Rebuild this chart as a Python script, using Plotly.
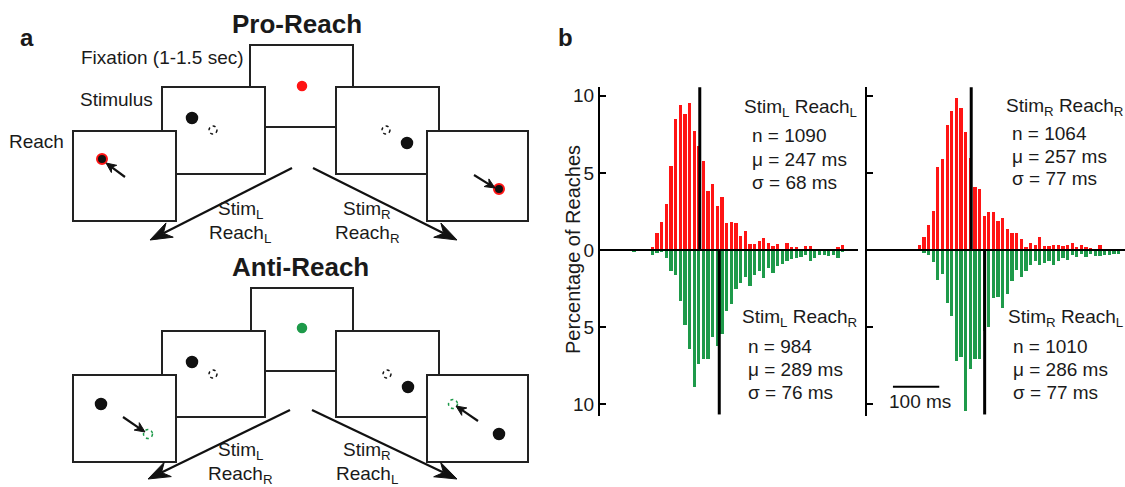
import math
import plotly.graph_objects as go

W, H = 1125, 487
FONT = "Arial, Liberation Sans, Helvetica, sans-serif"
TXT = "#1a1a1a"
RED = "#ff1414"
GREEN = "#1e9a4a"

# ---------------- data (percentage of reaches per 10 ms bin) ----------------
bins_ms = [85, 95, 105, 115, 125, 135, 145, 155, 165, 175,
           185, 195, 205, 215, 225, 235, 245, 255, 265, 275,
           285, 295, 305, 315, 325, 335, 345, 355, 365, 375,
           385, 395, 405, 415, 425, 435, 445, 455, 465, 475,
           485, 495, 505, 515, 525, 535, 545, 555, 565, 575,
           585]

pro_left = [0.08, 0.08, 0.12, 0, 0, 0, 0.26, 1.16, 1.87, 3.0,
            5.46, 8.5, 9.46, 8.86, 9.55, 7.74, 6.8, 5.78, 3.88, 4.32,
            2.9, 3.45, 1.8, 1.86, 1.8, 0.95, 1.25, 0.45, 0.45, 0.6,
            0.8, 0.5, 0.3, 0.42, 0.08, 0.47, 0.22, 0.22, 0.04, 0.3,
            0.3, 0.05, 0.13, 0.05, 0.05, 0.05, 0.22, 0.34, 0, 0,
            0]
anti_left = [0, 0, 0.1, 0, 0, 0, 0.28, 0.17, 0.05, 0.5,
             1.31, 1.57, 3.29, 4.8, 6.4, 8.84, 7.38, 7.05, 7.05, 5.6,
             6.2, 5.4, 3.9, 3.46, 2.5, 2.1, 1.7, 2.3, 1.6, 1.3,
             1.75, 1.1, 1.45, 1.0, 0.9, 0.65, 0.55, 0.5, 0.4, 0.3,
             0.65, 0.45, 0.3, 0.3, 0.37, 0.3, 0.45, 0.1, 0, 0,
             0]
pro_right = [0, 0, 0, 0, 0, 0.05, 0.37, 0.87, 1.63, 2.54,
             5.41, 5.93, 8.15, 9.02, 9.9, 9.24, 7.67, 6.0, 4.13, 3.98,
             2.24, 2.5, 2.5, 1.9, 2.1, 1.41, 1.15, 1.15, 0.72, 0.22,
             0.5, 0.37, 0.91, 0.28, 0.28, 0.37, 0.37, 0.28, 0.37, 0.5,
             0.22, 0.37, 0.22, 0.15, 0, 0.37, 0.1, 0.1, 0.1, 0.12,
             0]
anti_right = [0, 0, 0, 0, 0, 0, 0, 0.15, 0.26, 0.74,
              1.89, 1.52, 3.41, 4.22, 7.17, 6.89, 10.37, 7.65, 7.04, 7.04,
              5.2, 4.93, 3.04, 2.98, 3.74, 2.83, 2.0, 1.24, 1.74, 1.3,
              0.91, 0.7, 0.96, 0.8, 0.65, 0.96, 0.7, 0.48, 0.59, 0.3,
              0.43, 0.22, 0.43, 0.22, 0.37, 0.37, 0.26, 0.3, 0.2, 0.2,
              0]

stim_side = ["L", "L", "R", "R"]
reach_side = ["L", "R", "R", "L"]
n_vals = [1090, 984, 1064, 1010]
mu_vals = [247, 289, 257, 286]
sd_vals = [68, 76, 77, 77]

y_ticks = [-10, -5, 0, 5, 10]
y_tick_text = ["10", "5", "0", "5", "10"]

# ---------------- helpers for pixel placement ----------------
def px(x):
    return x / W


def py(y):
    return 1 - y / H


fig = go.Figure()

# ---------------- histograms ----------------
panels = [("x", "y", pro_left, anti_left, 0, 1), ("x2", "y2", pro_right, anti_right, 2, 3)]
for xa, ya, up, down, iu, idn in panels:
    fig.add_trace(go.Bar(x=bins_ms, y=up, width=7, marker=dict(color=RED, line=dict(width=0)),
                         xaxis=xa, yaxis=ya, showlegend=False))
    fig.add_trace(go.Bar(x=bins_ms, y=[-v for v in down], width=7,
                         marker=dict(color=GREEN, line=dict(width=0)),
                         xaxis=xa, yaxis=ya, showlegend=False))
    fig.add_trace(go.Scatter(x=[mu_vals[iu], mu_vals[iu]], y=[0, 10.55], mode="lines",
                             line=dict(color="black", width=3), xaxis=xa, yaxis=ya, showlegend=False))
    fig.add_trace(go.Scatter(x=[mu_vals[idn], mu_vals[idn]], y=[0, -10.65], mode="lines",
                             line=dict(color="black", width=3), xaxis=xa, yaxis=ya, showlegend=False))

shapes = []
annotations = []

# baselines on top
for xr, yr in [("x domain", "y"), ("x2 domain", "y2")]:
    shapes.append(dict(type="line", xref=xr, yref=yr, x0=0, x1=1, y0=0, y1=0,
                       line=dict(color="black", width=2), layer="above"))

# scale bar (100 ms)
shapes.append(dict(type="line", xref="x2", yref="y2", x0=88, x1=188, y0=-8.85, y1=-8.85,
                   line=dict(color="black", width=2)))
annotations.append(dict(xref="x2", yref="y2", x=146, y=-9.8, text="100 ms", showarrow=False,
                        font=dict(size=19, color=TXT, family=FONT)))

# condition text blocks
text_pos = [(742, 108, 750, 136), (740, 318, 746, 346), (1004, 107, 1010, 133), (1006, 318, 1011, 346)]
for k, (tx, ty, sx, sy) in enumerate(text_pos):
    annotations.append(dict(xref="paper", yref="paper", x=px(tx), y=py(ty), xanchor="left", yanchor="middle",
                            text=f"Stim<sub>{stim_side[k]}</sub> Reach<sub>{reach_side[k]}</sub>",
                            showarrow=False, font=dict(size=19, color=TXT, family=FONT)))
    lines = [f"n = {n_vals[k]}", f"\u03bc = {mu_vals[k]} ms", f"\u03c3 = {sd_vals[k]} ms"]
    for j, t in enumerate(lines):
        annotations.append(dict(xref="paper", yref="paper", x=px(sx), y=py(sy + 23 * j),
                                xanchor="left", yanchor="middle", text=t, showarrow=False,
                                font=dict(size=19, color=TXT, family=FONT)))

annotations.append(dict(xref="paper", yref="paper", x=px(573), y=py(250), text="Percentage of Reaches",
                        textangle=-90, showarrow=False, font=dict(size=20, color=TXT, family=FONT)))

# panel letters
annotations.append(dict(xref="paper", yref="paper", x=px(18), y=py(22), text="<b>a</b>", showarrow=False,
                        font=dict(size=24, color=TXT, family=FONT)))
annotations.append(dict(xref="paper", yref="paper", x=px(565), y=py(22), text="<b>b</b>", showarrow=False,
                        font=dict(size=24, color=TXT, family=FONT)))

# ---------------- panel a diagram ----------------
def box(x0, y0, x1, y1):
    shapes.append(dict(type="rect", xref="paper", yref="paper", x0=px(x0), x1=px(x1), y0=py(y1), y1=py(y0),
                       line=dict(color="#222", width=2), fillcolor="white", layer="above"))


def dot(cx, cy, r, fill, line_color=None, lw=1.5):
    shapes.append(dict(type="circle", xref="paper", yref="paper", x0=px(cx - r), x1=px(cx + r),
                       y0=py(cy + r), y1=py(cy - r),
                       line=dict(color=line_color or fill, width=lw),
                       fillcolor=fill, layer="above"))


def ring(cx, cy, r, color):
    shapes.append(dict(type="circle", xref="paper", yref="paper", x0=px(cx - r), x1=px(cx + r),
                       y0=py(cy + r), y1=py(cy - r),
                       line=dict(color=color, width=1.5, dash="dot"), fillcolor="rgba(0,0,0,0)", layer="above"))


def arrow(tx, ty, hx, hy, width, head_len, head_half, notch):
    """Straight arrow from tail (tx,ty) to tip (hx,hy), pixel coordinates, barbed filled head."""
    L = math.hypot(hx - tx, hy - ty)
    dx, dy = (hx - tx) / L, (hy - ty) / L
    nx, ny = -dy, dx
    bx, by = hx - (head_len - notch) * dx, hy - (head_len - notch) * dy
    shapes.append(dict(type="line", xref="paper", yref="paper", x0=px(tx), y0=py(ty), x1=px(bx), y1=py(by),
                       line=dict(color="#111", width=width), layer="above"))
    p1 = (hx, hy)
    p2 = (hx - head_len * dx + head_half * nx, hy - head_len * dy + head_half * ny)
    p3 = (bx, by)
    p4 = (hx - head_len * dx - head_half * nx, hy - head_len * dy - head_half * ny)
    path = "M {} {} L {} {} L {} {} L {} {} Z".format(
        px(p1[0]), py(p1[1]), px(p2[0]), py(p2[1]), px(p3[0]), py(p3[1]), px(p4[0]), py(p4[1]))
    shapes.append(dict(type="path", xref="paper", yref="paper", path=path, fillcolor="#111",
                       line=dict(color="#111", width=1), layer="above"))


def label(x, y, text, size=19, anchor="center", bold=False):
    annotations.append(dict(xref="paper", yref="paper", x=px(x), y=py(y), xanchor=anchor, yanchor="middle",
                            text=f"<b>{text}</b>" if bold else text, showarrow=False,
                            font=dict(size=size, color=TXT, family=FONT)))


# Pro-Reach
label(297, 24, "Pro-Reach", size=26, bold=True)
label(246, 57, "Fixation (1-1.5 sec)", anchor="right")
label(155, 100, "Stimulus", anchor="right")
label(66, 141, "Reach", anchor="right")
box(250, 45, 353, 127)
dot(302, 86, 4.5, RED)
box(162, 87, 265, 174)
dot(192, 118, 5.5, "#111")
ring(213, 130, 4, "#111")
box(336, 87, 439, 174)
ring(386, 130, 4, "#111")
dot(407, 143, 5.5, "#111")
box(73, 131, 176, 221)
dot(102, 159, 5, "#111", line_color=RED, lw=2)
arrow(125, 177, 106, 163, 2.2, 10, 4.5, 3)
box(427, 131, 528, 221)
dot(499, 189, 5, "#111", line_color=RED, lw=2)
arrow(474, 175, 495, 188, 2.2, 10, 4.5, 3)
arrow(292, 168, 150, 240, 2.2, 22, 8, 7)
arrow(313, 168, 457, 240, 2.2, 22, 8, 7)
label(240, 210, "Stim<sub>L</sub>")
label(240, 234, "Reach<sub>L</sub>")
label(367, 210, "Stim<sub>R</sub>")
label(367, 234, "Reach<sub>R</sub>")

# Anti-Reach
label(300, 267, "Anti-Reach", size=26, bold=True)
box(251, 288, 353, 371)
dot(302, 328, 4.5, GREEN)
box(162, 331, 265, 417)
dot(192, 362, 5.5, "#111")
ring(213, 374, 4, "#111")
box(336, 331, 439, 417)
ring(387, 374, 4, "#111")
dot(408, 387, 5.5, "#111")
box(73, 375, 176, 462)
dot(101, 404, 5.5, "#111")
ring(148, 434, 4.5, GREEN)
arrow(123, 417, 145, 432, 2.2, 10, 4.5, 3)
box(427, 375, 528, 462)
ring(453, 404, 4.5, GREEN)
arrow(478, 421, 456, 406, 2.2, 10, 4.5, 3)
dot(499, 434, 5.5, "#111")
arrow(290, 410, 148, 479, 2.2, 22, 8, 7)
arrow(312, 410, 457, 479, 2.2, 22, 8, 7)
label(240, 451, "Stim<sub>L</sub>")
label(240, 475, "Reach<sub>R</sub>")
label(367, 451, "Stim<sub>R</sub>")
label(367, 475, "Reach<sub>L</sub>")

# ---------------- layout ----------------
y_dom = [1 - 416 / H, 1 - 86.5 / H]
y_rng = [-10.75, 10.6]
common_y = dict(domain=y_dom, range=y_rng, showgrid=False, zeroline=False, showline=True,
                linecolor="black", linewidth=2, ticks="inside", ticklen=6, tickwidth=2, tickcolor="black",
                tickvals=y_ticks, ticktext=y_tick_text, tickfont=dict(size=19, color=TXT, family=FONT),
                fixedrange=True)
common_x = dict(showgrid=False, zeroline=False, showline=False, showticklabels=False, ticks="",
                fixedrange=True)

fig.update_layout(
    width=W, height=H, autosize=False,
    margin=dict(l=0, r=0, t=0, b=0, pad=0),
    paper_bgcolor="white", plot_bgcolor="rgba(0,0,0,0)",
    barmode="overlay", bargap=0,
    xaxis=dict(domain=[600 / W, 858 / W], range=[32, 588], anchor="y", **common_x),
    yaxis=dict(anchor="x", **common_y),
    xaxis2=dict(domain=[867 / W, 1.0], range=[32, 589], anchor="y2", **common_x),
    yaxis2=dict(anchor="x2", showticklabels=False, **common_y),
    shapes=shapes,
    annotations=annotations,
    font=dict(family=FONT, color=TXT),
)

fig.write_html("out.html")
